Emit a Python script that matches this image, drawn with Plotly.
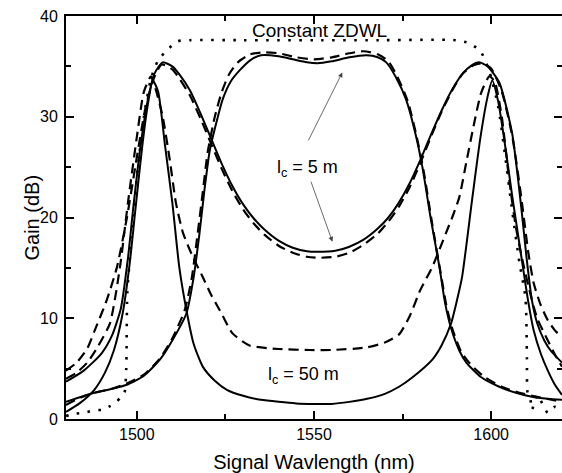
import plotly.graph_objects as go

# ---- data (wavelength nm, gain dB) ----
# dotted: constant ZDWL
lam_dot = [1480, 1482, 1484.5, 1486, 1488, 1490, 1492, 1494, 1495.5, 1496.5, 1497, 1497.3, 1498.5, 1500,
           1502, 1504, 1506, 1508.5, 1511.5, 1515, 1530, 1550, 1570, 1590, 1593.8, 1597, 1599.5, 1602,
           1604, 1606, 1608, 1609.7, 1610.1, 1610.3, 1611, 1611.5, 1613, 1614.5, 1616, 1618, 1620]
g_dot = [0.3, 0.5, 0.6, 0.7, 0.9, 0.9, 1.2, 1.6, 2.2, 2.6, 5.0, 12.5, 18.0, 24.0,
         30.0, 33.8, 35.6, 36.6, 37.5, 37.6, 37.6, 37.6, 37.6, 37.6, 37.3, 36.5, 34.5, 31.0,
         26.0, 20.5, 15.5, 12.0, 6.0, 2.6, 2.2, 0.9, 2.4, 1.5, 0.6, 1.2, 0.8]

# solid, l_c = 50 m (narrow twin peaks)
lam_s1 = [1480, 1484, 1488, 1491, 1493.5, 1496, 1498, 1499.5, 1501.5, 1503, 1504.5, 1506, 1508, 1510,
          1512, 1514, 1516, 1518.6, 1522, 1525.4, 1530, 1535, 1540, 1545, 1550, 1555, 1560, 1565,
          1570, 1574, 1578, 1583.4, 1586, 1588.7, 1590.5, 1591.8, 1594.6, 1597, 1599, 1600.3, 1602,
          1604, 1606, 1607.5, 1609, 1610.4, 1612, 1614, 1616, 1618, 1620]
g_s1 = [0.7, 1.6, 2.9, 4.6, 6.8, 10.5, 15.5, 20.5, 27.0, 31.0, 33.6, 32.5, 27.0, 21.5,
        15.0, 10.8, 7.5, 5.2, 3.8, 2.9, 2.3, 1.9, 1.7, 1.55, 1.5, 1.5, 1.7, 2.0,
        2.5, 3.2, 4.2, 5.9, 7.3, 9.5, 12.0, 14.1, 21.7, 28.0, 32.0, 33.6, 31.5,
        27.0, 22.0, 18.5, 15.0, 11.8, 8.8, 6.5, 4.8, 3.4, 2.4]

# solid, l_c = 5 m (wide twin peaks)
lam_s2 = [1480, 1485, 1490, 1493, 1495.5, 1497.5, 1499, 1501, 1503, 1505, 1507.3, 1510, 1512, 1515,
          1518, 1521, 1524, 1527, 1530, 1533, 1536, 1540, 1544, 1548, 1551, 1556, 1560, 1564,
          1568, 1571, 1574, 1577, 1580, 1583, 1586, 1589, 1592, 1594.5, 1596.6, 1599, 1602.3, 1605.9,
          1608.5, 1610, 1611.5, 1613, 1615, 1617, 1620]
g_s2 = [3.7, 4.8, 6.5, 8.3, 11.0, 16.0, 21.0, 27.0, 31.5, 34.3, 35.4, 35.0, 34.2, 32.6,
        30.3, 27.8, 25.3, 23.1, 21.3, 19.9, 18.8, 17.7, 17.0, 16.65, 16.6, 16.7, 17.1, 17.8,
        18.9, 20.0, 21.5, 23.4, 25.7, 28.2, 30.6, 32.7, 34.3, 35.1, 35.4, 35.0, 33.4, 28.4,
        21.0, 16.0, 11.8, 9.5, 7.8, 6.7, 5.6]

# solid, flat-top central band
lam_s3 = [1480, 1487, 1493, 1497.2, 1502, 1506.5, 1510, 1514, 1516, 1517.7, 1519, 1520.6, 1522.5, 1524.2,
          1526.5, 1529, 1532, 1535, 1540, 1544, 1548, 1551, 1555, 1560, 1564.8, 1568, 1570.4, 1573,
          1576, 1578.5, 1580.6, 1583, 1585.4, 1587, 1588.7, 1591, 1593, 1597, 1602.3, 1607, 1611.5, 1616, 1620]
g_s3 = [1.7, 2.5, 3.0, 3.4, 4.3, 5.9, 7.8, 10.5, 14.0, 18.5, 22.5, 26.7, 29.5, 31.7,
        33.5, 34.6, 35.6, 36.1, 36.0, 35.7, 35.4, 35.3, 35.5, 35.9, 36.1, 35.9, 35.4, 34.0,
        31.7, 28.5, 25.0, 19.8, 15.1, 11.5, 9.0, 6.8, 5.6, 4.2, 3.2, 2.6, 2.2, 2.0, 1.9]

# dashed, narrow twin peaks
lam_d1 = [1480, 1483, 1486, 1489, 1492.4, 1495.2, 1497.5, 1500, 1502, 1504, 1505.5, 1507.3, 1509.3, 1511,
          1513, 1515.8, 1518.6, 1521, 1523.4, 1527, 1531.8, 1540, 1548.7, 1555, 1564.8, 1570, 1574,
          1577, 1580, 1583.4, 1587.3, 1589, 1591, 1593, 1595, 1597.2, 1599.5, 1601, 1603, 1605, 1607, 1609,
          1611, 1613, 1616, 1618, 1620]
g_d1 = [4.0, 4.6, 5.6, 7.2, 9.5, 15.0, 21.5, 28.0, 32.5, 34.0, 32.5, 30.0, 25.7, 21.5,
        18.5, 16.1, 14.1, 12.3, 10.8, 8.5, 7.3, 6.95, 6.85, 6.85, 7.1, 7.6, 8.4,
        10.2, 12.8, 15.1, 18.5, 20.0, 22.0, 25.5, 29.0, 32.4, 34.0, 33.5, 30.0, 24.0, 19.0, 15.5,
        12.5, 10.0, 7.8, 6.4, 5.2]

# dashed, wide twin peaks
lam_d2 = [1480, 1483, 1486, 1488, 1491.5, 1494.4, 1497.2, 1500, 1502.5, 1505, 1507, 1510, 1512, 1515,
          1518, 1521, 1524, 1527, 1530, 1533, 1536, 1540, 1544, 1548, 1551, 1556, 1560, 1564,
          1568, 1571, 1574, 1577, 1580, 1583, 1586, 1589, 1592, 1595, 1597.5, 1600, 1603, 1606,
          1608.5, 1610.5, 1612, 1614, 1616, 1618, 1620]
g_d2 = [4.8, 5.6, 7.0, 8.7, 11.8, 15.1, 20.0, 26.0, 31.0, 34.0, 35.2, 34.7, 33.8, 32.1,
        29.8, 27.3, 24.8, 22.6, 20.8, 19.4, 18.3, 17.2, 16.5, 16.1, 16.0, 16.1, 16.5, 17.3,
        18.4, 19.6, 21.1, 23.0, 25.4, 28.0, 30.5, 32.6, 34.3, 35.1, 35.3, 34.8, 32.5, 28.0,
        22.0, 16.5, 13.5, 11.3, 9.8, 8.8, 8.1]

# dashed, flat-top central band
lam_d3 = [1480, 1484, 1488, 1493, 1497, 1502, 1506.5, 1510, 1513.5, 1515.5, 1517.2, 1518.6, 1520, 1522,
          1524, 1526, 1528.5, 1532, 1536, 1540, 1545, 1550, 1555, 1560, 1564, 1568, 1571, 1573.5,
          1576.5, 1579, 1581, 1583.3, 1585.7, 1587.4, 1589, 1591.5, 1594, 1598, 1603, 1608, 1613, 1620]
g_d3 = [1.4, 2.1, 2.6, 3.0, 3.5, 4.4, 6.0, 8.0, 10.8, 14.0, 18.5, 22.5, 26.5, 30.0,
        32.5, 34.2, 35.4, 36.2, 36.4, 36.3, 35.9, 35.7, 35.9, 36.3, 36.5, 36.2, 35.5, 34.0,
        31.5, 28.0, 24.5, 19.5, 14.6, 11.2, 9.0, 6.7, 5.5, 4.2, 3.2, 2.6, 2.2, 1.7]

x_ticks = [1500, 1550, 1600]
x_minor = [1525, 1575]
y_ticks = [0, 10, 20, 30, 40]
y_minor = [5, 15, 25, 35]

FONT = "Arial, Liberation Sans, sans-serif"

fig = go.Figure()

def add(lx, ly, dash, width, yaxis="y"):
    fig.add_trace(go.Scatter(x=lx, y=ly, mode="lines", yaxis=yaxis,
                             line=dict(color="black", width=width, dash=dash,
                                       shape="spline", smoothing=0.6),
                             showlegend=False, hoverinfo="skip"))

add(lam_dot, g_dot, "2.5px,8.5px", 2.6)
add(lam_d1, g_d1, "10px,6px", 2.2)
add(lam_d2, g_d2, "10px,6px", 2.2)
add(lam_d3, g_d3, "10px,6px", 2.2)
add(lam_s1, g_s1, "solid", 2)
add(lam_s2, g_s2, "solid", 2)
add(lam_s3, g_s3, "solid", 2, yaxis="y2")

tickfont = dict(family=FONT, size=16, color="black")
tick_common = dict(ticks="inside", ticklen=8, tickwidth=1.5, tickcolor="black",
                   minor=dict(tickmode="array", tickvals=y_minor, ticks="inside",
                              ticklen=5, tickwidth=1.5, tickcolor="black"))
fig.update_layout(
    width=562, height=473,
    margin=dict(l=66, r=0, t=16, b=54, autoexpand=False),
    paper_bgcolor="white", plot_bgcolor="white",
    font=dict(family=FONT, color="black"),
    xaxis=dict(range=[1480, 1620], tickmode="array", tickvals=x_ticks,
               ticktext=[str(v) for v in x_ticks],
               ticks="inside", ticklen=8, tickwidth=1.5, tickcolor="black",
               minor=dict(tickmode="array", tickvals=x_minor, ticks="inside",
                          ticklen=5, tickwidth=1.5, tickcolor="black"),
               showline=True, linecolor="black", linewidth=2, mirror="ticks",
               showgrid=False, zeroline=False, tickfont=tickfont,
               title=dict(text="Signal Wavlength (nm)", font=dict(family=FONT, size=20),
                          standoff=14)),
    # left axis: line and inside ticks; labels drawn as annotations right next to the axis
    yaxis=dict(range=[0, 40], tickmode="array", tickvals=y_ticks, showticklabels=False,
               showline=True, linecolor="black", linewidth=2,
               showgrid=False, zeroline=False, **tick_common),
    yaxis2=dict(range=[0, 40], overlaying="y", side="right", tickmode="array",
                tickvals=y_ticks, showticklabels=False, showline=False,
                showgrid=False, zeroline=False, **tick_common),
)

# y tick labels
for v in y_ticks:
    fig.add_annotation(x=0, xref="paper", y=v, yref="y", text=str(v), showarrow=False,
                       xanchor="right", yanchor="middle", xshift=-6,
                       font=dict(family=FONT, size=16, color="black"))
# y axis title
fig.add_annotation(x=0, xref="paper", y=0.5, yref="paper", text="Gain (dB)", showarrow=False,
                   textangle=-90, xanchor="center", yanchor="middle", xshift=-35,
                   font=dict(family=FONT, size=20, color="black"))

fig.add_annotation(x=1551.5, y=38.6, text="Constant ZDWL", showarrow=False,
                   font=dict(family=FONT, size=19, color="black"), xanchor="center", yanchor="middle")
fig.add_annotation(x=1548.2, y=24.9, text="l<sub>c</sub> = 5 m", showarrow=False,
                   font=dict(family=FONT, size=18, color="black"), xanchor="center", yanchor="middle")
fig.add_annotation(x=1547.0, y=4.3, text="l<sub>c</sub> = 50 m", showarrow=False,
                   font=dict(family=FONT, size=18, color="black"), xanchor="center", yanchor="middle")
# arrows from the l_c = 5 m label
fig.add_annotation(x=1558.0, y=34.4, ax=1548.2, ay=27.5, axref="x", ayref="y", xref="x", yref="y",
                   text="", showarrow=True, arrowhead=2, arrowsize=1.2, arrowwidth=0.8, arrowcolor="#444")
fig.add_annotation(x=1555.2, y=17.6, ax=1549.0, ay=23.7, axref="x", ayref="y", xref="x", yref="y",
                   text="", showarrow=True, arrowhead=2, arrowsize=1.2, arrowwidth=0.8, arrowcolor="#444")

fig.write_html("out.html", config={"displayModeBar": False},
               post_script="document.body.style.margin='0';document.body.style.overflow='hidden';")
